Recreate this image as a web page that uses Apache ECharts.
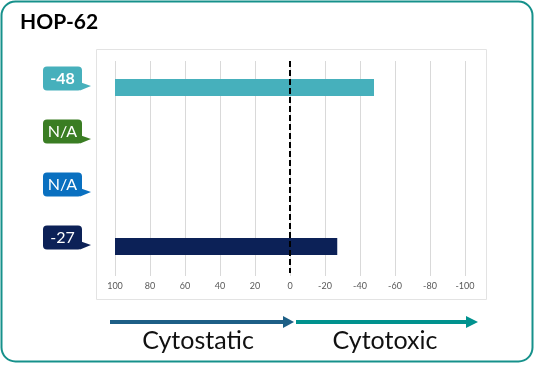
<!DOCTYPE html>
<html><head><meta charset="utf-8">
<script src="https://cdn.jsdelivr.net/npm/echarts@6/dist/echarts.min.js"></script>
<style>html,body{margin:0;padding:0;background:#fff}#c{width:536px;height:365px}</style>
</head><body><div id="c"></div>
<script>
// ---- data ----
const title = 'HOP-62';
const categories = ['Row 1', 'Row 2', 'Row 3', 'Row 4'];
const values = [-48, null, null, -27];
const bubbleLabels = ['-48', 'N/A', 'N/A', '-27'];
const axisMin = -100, axisMax = 100, axisStep = 20;
const barStart = 100;
const leftCaption = 'Cytostatic';
const rightCaption = 'Cytotoxic';

// ---- styles ----
const bubbleColors = ['#46b0bc', '#3a7d23', '#0a70c0', '#0c2157'];

const chart = echarts.init(document.getElementById('c'), null, {renderer: 'canvas'});

chart.setOption({
  animation: false,
  grid: {left: 115, right: 71, top: 61, bottom: 92},
  xAxis: {
    type: 'value', min: axisMin, max: axisMax, interval: axisStep, inverse: true,
    axisLine: {show: false},
    axisTick: {show: true, length: 3, lineStyle: {color: '#d9d9d9'}},
    axisLabel: {fontSize: 9, color: '#595959', margin: 9, fontFamily: 'Lato'},
    splitLine: {show: true, lineStyle: {color: '#d9d9d9', width: 1}}
  },
  yAxis: {
    type: 'category', data: categories, inverse: true,
    axisLine: {show: false}, axisTick: {show: false}, axisLabel: {show: false},
    splitLine: {show: false}
  },
  series: [
    {
      type: 'bar', stack: 'b', stackStrategy: 'all', barWidth: 17, silent: true,
      itemStyle: {color: 'rgba(0,0,0,0)'},
      data: values.map(v => v == null ? null : barStart)
    },
    {
      type: 'bar', stack: 'b', stackStrategy: 'all', barWidth: 17,
      data: values.map((v, i) => v == null ? null : {value: v - barStart, itemStyle: {color: bubbleColors[i]}}),
      markLine: {
        silent: true, symbol: 'none',
        label: {show: false},
        lineStyle: {type: [6, 3], color: '#000', width: 2},
        data: [{xAxis: 0}]
      }
    }
  ]
});

const g = [
  {type: 'rect', shape: {x: 1.5, y: 1.5, width: 531, height: 360, r: 14},
   style: {fill: 'none', stroke: '#16918b', lineWidth: 2}, z: 0},
  {type: 'rect', shape: {x: 96.5, y: 49.5, width: 390, height: 250},
   style: {fill: 'none', stroke: '#e3e3e3', lineWidth: 1}, z: 0},
  {type: 'text', x: 20, y: 22, style: {text: title, fontSize: 21, fontWeight: 'bold',
   fontFamily: 'Lato', fill: '#000', verticalAlign: 'middle'}},
  {type: 'line', shape: {x1: 110, y1: 322, x2: 285, y2: 322}, style: {stroke: '#1d5f86', lineWidth: 4}},
  {type: 'polygon', shape: {points: [[283, 316], [294, 322], [283, 328]]}, style: {fill: '#1d5f86'}},
  {type: 'line', shape: {x1: 296, y1: 322, x2: 468, y2: 322}, style: {stroke: '#00928e', lineWidth: 4}},
  {type: 'polygon', shape: {points: [[466, 316], [478, 322], [466, 328]]}, style: {fill: '#00928e'}},
  {type: 'text', x: 198, y: 341, style: {text: leftCaption, fontSize: 25, fontFamily: 'Lato',
   fill: '#111', align: 'center', verticalAlign: 'middle'}},
  {type: 'text', x: 385, y: 341, style: {text: rightCaption, fontSize: 25, fontFamily: 'Lato',
   fill: '#111', align: 'center', verticalAlign: 'middle'}}
];

categories.forEach((c, i) => {
  const cy = chart.convertToPixel({yAxisIndex: 0}, c);
  const col = bubbleColors[i];
  g.push({type: 'rect', shape: {x: 43, y: cy - 21, width: 39, height: 24, r: 4}, style: {fill: col}});
  g.push({type: 'polygon', shape: {points: [[81, cy - 5], [91, cy - 1.5], [80, cy + 3]]}, style: {fill: col}});
  g.push({type: 'text', x: 62.5, y: cy - 9, style: {text: bubbleLabels[i], fill: '#fff', fontSize: 16,
    fontFamily: 'Lato', fontWeight: i === 0 ? 'bold' : 'normal', align: 'center', verticalAlign: 'middle'}});
});

chart.setOption({graphic: g});
</script>
</body></html>
